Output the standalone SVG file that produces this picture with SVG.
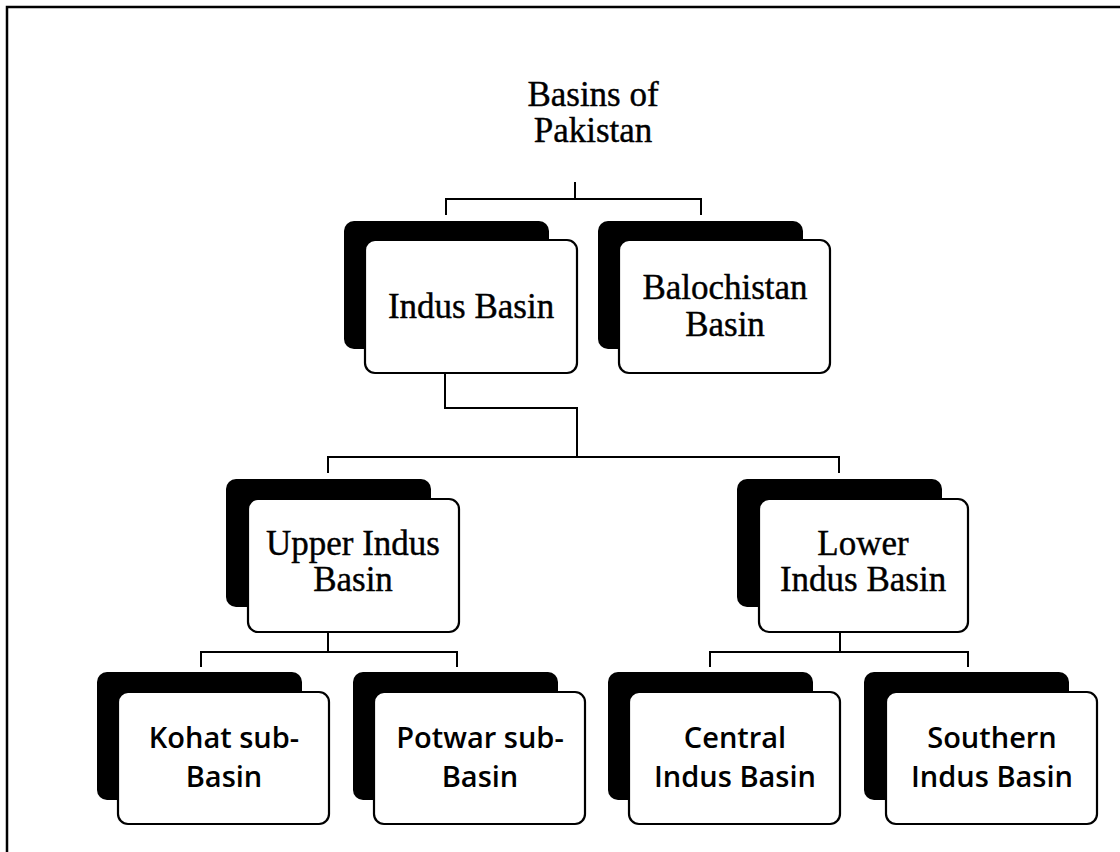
<svg xmlns="http://www.w3.org/2000/svg" width="1120" height="852" viewBox="0 0 1120 852">
<style>
.bg{fill:#fff}
.shadow{fill:#000}
.box{fill:#fff;stroke:#000;stroke-width:2.2}
.serif{font-family:"Liberation Serif","Times New Roman",serif;font-size:35px;fill:#000;stroke:#000;stroke-width:0.4;text-anchor:middle}
.sans{font-family:"Open Sans","Liberation Sans",sans-serif;font-size:29px;font-weight:600;fill:#000;text-anchor:middle}
.conn{fill:none;stroke:#000;stroke-width:2}
</style>
<rect class="bg" x="0" y="0" width="1120" height="852"/>
<path d="M7,852 V7 H1120" fill="none" stroke="#000" stroke-width="2.5"/>
<g id="title">
<text class="serif" x="593" y="106">Basins of</text>
<text class="serif" x="593" y="142">Pakistan</text>
</g>
<g id="connectors" class="conn">
<path d="M575,182 V199 M446,215 V199 H701 V215"/>
<path d="M445,373 V408 H577 V457 M328,473 V457 H839 V473"/>
<path d="M328,632 V652 M201,667 V652 H457 V667"/>
<path d="M840,632 V652 M710,667 V652 H968 V667"/>
</g>
<g id="indus-basin">
<rect class="shadow" x="344" y="221" width="205" height="128" rx="10"/>
<rect class="box" x="365" y="240" width="212" height="133" rx="10"/>
<text class="serif" x="471" y="318">Indus Basin</text>
</g>
<g id="balochistan-basin">
<rect class="shadow" x="598" y="221" width="205" height="128" rx="10"/>
<rect class="box" x="619" y="240" width="211" height="133" rx="10"/>
<text class="serif" x="725" y="299">Balochistan</text>
<text class="serif" x="725" y="336">Basin</text>
</g>
<g id="upper-indus-basin">
<rect class="shadow" x="226" y="479" width="205" height="128" rx="10"/>
<rect class="box" x="248" y="499" width="211" height="133" rx="10"/>
<text class="serif" x="353" y="555">Upper Indus</text>
<text class="serif" x="353" y="591">Basin</text>
</g>
<g id="lower-indus-basin">
<rect class="shadow" x="737" y="479" width="205" height="128" rx="10"/>
<rect class="box" x="759" y="499" width="209" height="133" rx="10"/>
<text class="serif" x="863" y="555">Lower</text>
<text class="serif" x="863" y="591">Indus Basin</text>
</g>
<g id="kohat-sub-basin">
<rect class="shadow" x="97" y="672" width="205" height="128" rx="10"/>
<rect class="box" x="118" y="692" width="211" height="132" rx="10"/>
<text class="sans" x="224" y="748">Kohat sub-</text>
<text class="sans" x="224" y="787">Basin</text>
</g>
<g id="potwar-sub-basin">
<rect class="shadow" x="353" y="672" width="205" height="128" rx="10"/>
<rect class="box" x="374" y="692" width="211" height="132" rx="10"/>
<text class="sans" x="480" y="748">Potwar sub-</text>
<text class="sans" x="480" y="787">Basin</text>
</g>
<g id="central-indus-basin">
<rect class="shadow" x="608" y="672" width="205" height="128" rx="10"/>
<rect class="box" x="629" y="692" width="211" height="132" rx="10"/>
<text class="sans" x="735" y="748">Central</text>
<text class="sans" x="735" y="787">Indus Basin</text>
</g>
<g id="southern-indus-basin">
<rect class="shadow" x="864" y="672" width="205" height="128" rx="10"/>
<rect class="box" x="886" y="692" width="211" height="132" rx="10"/>
<text class="sans" x="992" y="748">Southern</text>
<text class="sans" x="992" y="787">Indus Basin</text>
</g>
</svg>
